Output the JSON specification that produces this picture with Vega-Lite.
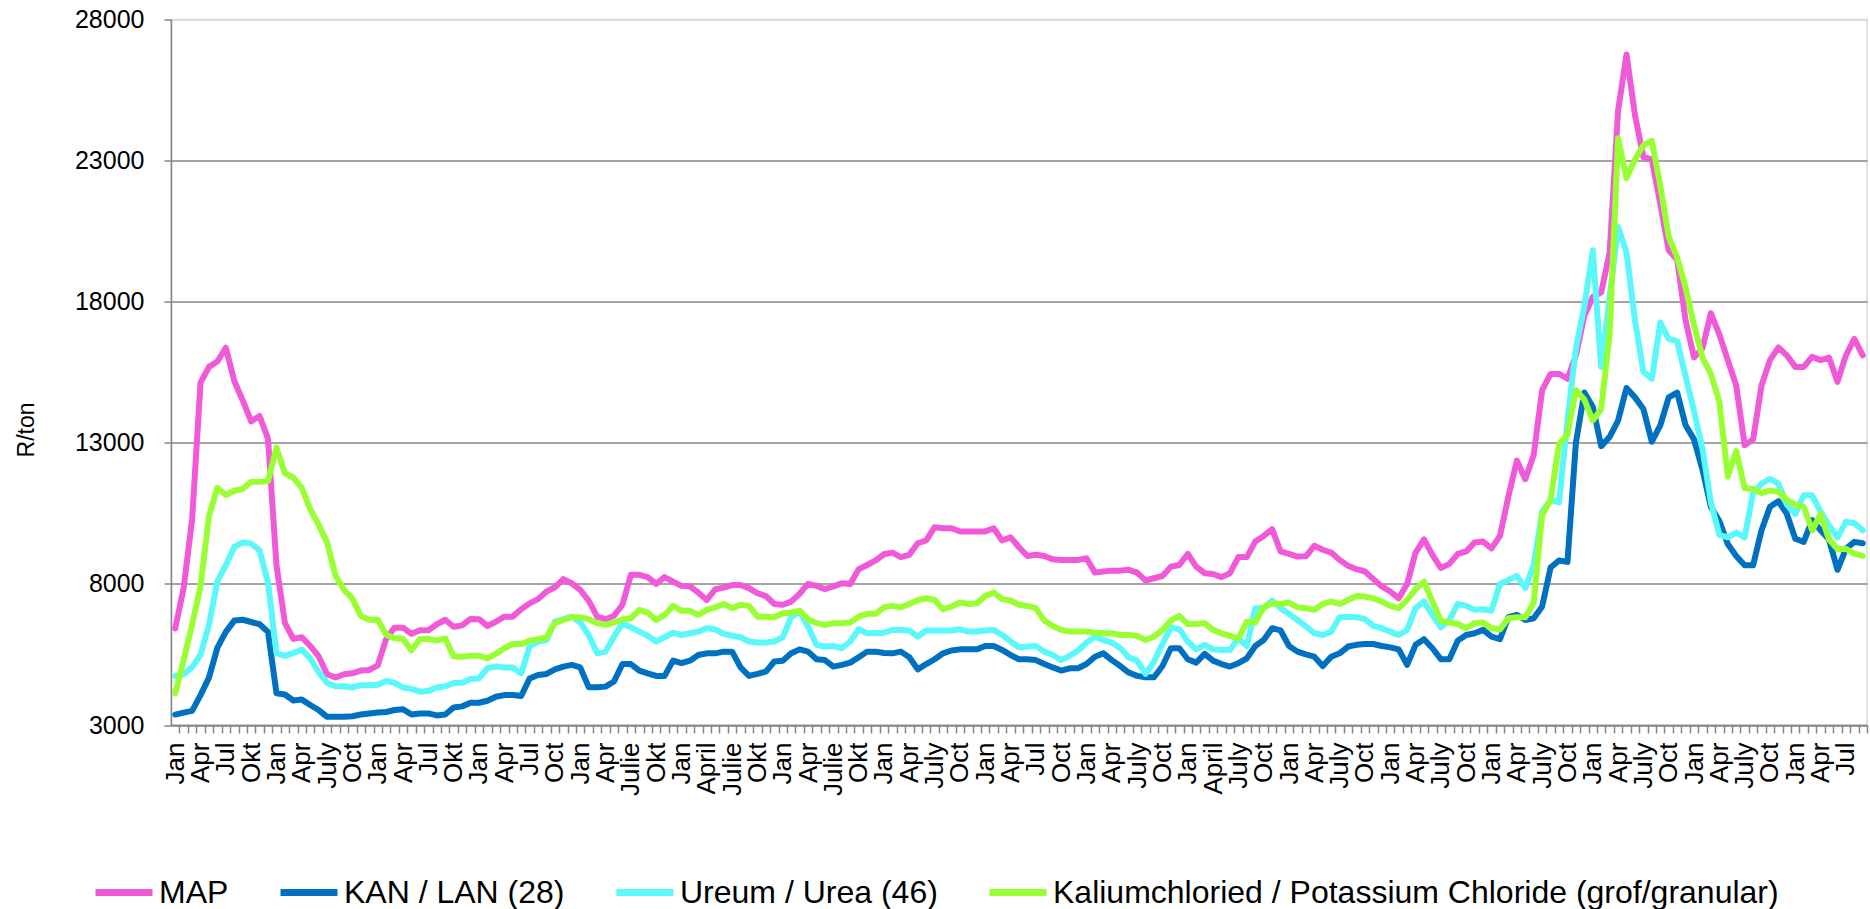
{
"$schema": "https://vega.github.io/schema/vega-lite/v6.json",
"width": 1696, "height": 705.5,
"autosize": {"type": "none"},
"padding": {"left": 171, "top": 19.5, "right": 3, "bottom": 184},
"background": "white",
"config": {"font": "Liberation Sans", "view": {"stroke": "#d9d9d9", "strokeWidth": 1.5}},
"data": {"values": [
{"i":0,"MAP":6420,"KAN":3370,"UREA":4740,"KCL":4120},
{"i":1,"MAP":7850,"KAN":3440,"UREA":4800,"KCL":5300},
{"i":2,"MAP":10280,"KAN":3500,"UREA":5050,"KCL":6550},
{"i":3,"MAP":15130,"KAN":4060,"UREA":5490,"KCL":7910},
{"i":4,"MAP":15690,"KAN":4680,"UREA":6550,"KCL":10400},
{"i":5,"MAP":15880,"KAN":5740,"UREA":8100,"KCL":11400},
{"i":6,"MAP":16370,"KAN":6300,"UREA":8660,"KCL":11150},
{"i":7,"MAP":15190,"KAN":6700,"UREA":9310,"KCL":11300},
{"i":8,"MAP":14500,"KAN":6730,"UREA":9470,"KCL":11370},
{"i":9,"MAP":13760,"KAN":6650,"UREA":9430,"KCL":11620},
{"i":10,"MAP":13950,"KAN":6570,"UREA":9180,"KCL":11620},
{"i":11,"MAP":13140,"KAN":6300,"UREA":8040,"KCL":11650},
{"i":12,"MAP":8660,"KAN":4120,"UREA":5550,"KCL":12830},
{"i":13,"MAP":6610,"KAN":4080,"UREA":5450,"KCL":11920},
{"i":14,"MAP":6050,"KAN":3870,"UREA":5550,"KCL":11770},
{"i":15,"MAP":6110,"KAN":3900,"UREA":5670,"KCL":11400},
{"i":16,"MAP":5800,"KAN":3710,"UREA":5360,"KCL":10650},
{"i":17,"MAP":5430,"KAN":3530,"UREA":4870,"KCL":10090},
{"i":18,"MAP":4800,"KAN":3290,"UREA":4490,"KCL":9470},
{"i":19,"MAP":4680,"KAN":3290,"UREA":4370,"KCL":8290},
{"i":20,"MAP":4800,"KAN":3290,"UREA":4370,"KCL":7790},
{"i":21,"MAP":4830,"KAN":3310,"UREA":4330,"KCL":7480},
{"i":22,"MAP":4930,"KAN":3370,"UREA":4410,"KCL":6860},
{"i":23,"MAP":4950,"KAN":3410,"UREA":4410,"KCL":6730},
{"i":24,"MAP":5110,"KAN":3440,"UREA":4430,"KCL":6730},
{"i":25,"MAP":6050,"KAN":3460,"UREA":4560,"KCL":6200},
{"i":26,"MAP":6450,"KAN":3530,"UREA":4490,"KCL":6070},
{"i":27,"MAP":6450,"KAN":3560,"UREA":4330,"KCL":6050},
{"i":28,"MAP":6230,"KAN":3370,"UREA":4280,"KCL":5650},
{"i":29,"MAP":6360,"KAN":3410,"UREA":4180,"KCL":6050},
{"i":30,"MAP":6360,"KAN":3410,"UREA":4210,"KCL":6050},
{"i":31,"MAP":6570,"KAN":3340,"UREA":4330,"KCL":5990},
{"i":32,"MAP":6730,"KAN":3370,"UREA":4370,"KCL":6070},
{"i":33,"MAP":6480,"KAN":3620,"UREA":4490,"KCL":5430},
{"i":34,"MAP":6530,"KAN":3660,"UREA":4500,"KCL":5420},
{"i":35,"MAP":6760,"KAN":3790,"UREA":4630,"KCL":5450},
{"i":36,"MAP":6750,"KAN":3790,"UREA":4650,"KCL":5450},
{"i":37,"MAP":6510,"KAN":3860,"UREA":5010,"KCL":5360},
{"i":38,"MAP":6660,"KAN":4000,"UREA":5070,"KCL":5520},
{"i":39,"MAP":6840,"KAN":4060,"UREA":5040,"KCL":5720},
{"i":40,"MAP":6840,"KAN":4060,"UREA":5040,"KCL":5870},
{"i":41,"MAP":7100,"KAN":4030,"UREA":4830,"KCL":5870},
{"i":42,"MAP":7310,"KAN":4650,"UREA":5780,"KCL":5990},
{"i":43,"MAP":7460,"KAN":4770,"UREA":5960,"KCL":6040},
{"i":44,"MAP":7730,"KAN":4810,"UREA":6010,"KCL":6110},
{"i":45,"MAP":7880,"KAN":4970,"UREA":6660,"KCL":6610},
{"i":46,"MAP":8170,"KAN":5070,"UREA":6750,"KCL":6720},
{"i":47,"MAP":8020,"KAN":5130,"UREA":6840,"KCL":6820},
{"i":48,"MAP":7790,"KAN":5040,"UREA":6630,"KCL":6820},
{"i":49,"MAP":7410,"KAN":4340,"UREA":6190,"KCL":6750},
{"i":50,"MAP":6840,"KAN":4340,"UREA":5540,"KCL":6610},
{"i":51,"MAP":6750,"KAN":4360,"UREA":5600,"KCL":6550},
{"i":52,"MAP":6870,"KAN":4540,"UREA":6130,"KCL":6630},
{"i":53,"MAP":7260,"KAN":5160,"UREA":6610,"KCL":6750},
{"i":54,"MAP":8320,"KAN":5160,"UREA":6460,"KCL":6780},
{"i":55,"MAP":8320,"KAN":4930,"UREA":6310,"KCL":7080},
{"i":56,"MAP":8240,"KAN":4830,"UREA":6160,"KCL":6980},
{"i":57,"MAP":8000,"KAN":4740,"UREA":5960,"KCL":6720},
{"i":58,"MAP":8240,"KAN":4740,"UREA":6110,"KCL":6900},
{"i":59,"MAP":8080,"KAN":5280,"UREA":6270,"KCL":7220},
{"i":60,"MAP":7930,"KAN":5190,"UREA":6190,"KCL":7050},
{"i":61,"MAP":7910,"KAN":5280,"UREA":6250,"KCL":7050},
{"i":62,"MAP":7690,"KAN":5480,"UREA":6310,"KCL":6900},
{"i":63,"MAP":7430,"KAN":5540,"UREA":6430,"KCL":7080},
{"i":64,"MAP":7810,"KAN":5540,"UREA":6390,"KCL":7170},
{"i":65,"MAP":7870,"KAN":5600,"UREA":6230,"KCL":7290},
{"i":66,"MAP":7960,"KAN":5600,"UREA":6160,"KCL":7140},
{"i":67,"MAP":7960,"KAN":5040,"UREA":6110,"KCL":7260},
{"i":68,"MAP":7850,"KAN":4740,"UREA":5960,"KCL":7220},
{"i":69,"MAP":7670,"KAN":4810,"UREA":5920,"KCL":6840},
{"i":70,"MAP":7570,"KAN":4890,"UREA":5920,"KCL":6840},
{"i":71,"MAP":7290,"KAN":5250,"UREA":5960,"KCL":6820},
{"i":72,"MAP":7260,"KAN":5280,"UREA":6110,"KCL":6960},
{"i":73,"MAP":7370,"KAN":5540,"UREA":6820,"KCL":6980},
{"i":74,"MAP":7650,"KAN":5680,"UREA":7020,"KCL":7050},
{"i":75,"MAP":8000,"KAN":5600,"UREA":6490,"KCL":6750},
{"i":76,"MAP":7930,"KAN":5330,"UREA":5840,"KCL":6610},
{"i":77,"MAP":7810,"KAN":5300,"UREA":5780,"KCL":6550},
{"i":78,"MAP":7910,"KAN":5070,"UREA":5800,"KCL":6610},
{"i":79,"MAP":8020,"KAN":5130,"UREA":5720,"KCL":6610},
{"i":80,"MAP":8000,"KAN":5210,"UREA":5960,"KCL":6630},
{"i":81,"MAP":8520,"KAN":5400,"UREA":6390,"KCL":6840},
{"i":82,"MAP":8670,"KAN":5600,"UREA":6250,"KCL":6940},
{"i":83,"MAP":8830,"KAN":5600,"UREA":6250,"KCL":6940},
{"i":84,"MAP":9050,"KAN":5550,"UREA":6270,"KCL":7170},
{"i":85,"MAP":9110,"KAN":5540,"UREA":6370,"KCL":7220},
{"i":86,"MAP":8950,"KAN":5600,"UREA":6370,"KCL":7170},
{"i":87,"MAP":9030,"KAN":5400,"UREA":6350,"KCL":7290},
{"i":88,"MAP":9440,"KAN":4970,"UREA":6130,"KCL":7430},
{"i":89,"MAP":9540,"KAN":5160,"UREA":6350,"KCL":7490},
{"i":90,"MAP":10010,"KAN":5330,"UREA":6350,"KCL":7430},
{"i":91,"MAP":9970,"KAN":5540,"UREA":6350,"KCL":7100},
{"i":92,"MAP":9970,"KAN":5640,"UREA":6350,"KCL":7200},
{"i":93,"MAP":9860,"KAN":5680,"UREA":6390,"KCL":7340},
{"i":94,"MAP":9860,"KAN":5680,"UREA":6310,"KCL":7290},
{"i":95,"MAP":9860,"KAN":5680,"UREA":6310,"KCL":7310},
{"i":96,"MAP":9860,"KAN":5800,"UREA":6350,"KCL":7570},
{"i":97,"MAP":9970,"KAN":5800,"UREA":6370,"KCL":7690},
{"i":98,"MAP":9540,"KAN":5660,"UREA":6190,"KCL":7460},
{"i":99,"MAP":9650,"KAN":5480,"UREA":5960,"KCL":7410},
{"i":100,"MAP":9300,"KAN":5330,"UREA":5750,"KCL":7260},
{"i":101,"MAP":8990,"KAN":5330,"UREA":5780,"KCL":7220},
{"i":102,"MAP":9030,"KAN":5300,"UREA":5800,"KCL":7140},
{"i":103,"MAP":8990,"KAN":5160,"UREA":5600,"KCL":6700},
{"i":104,"MAP":8870,"KAN":5040,"UREA":5480,"KCL":6510},
{"i":105,"MAP":8850,"KAN":4930,"UREA":5300,"KCL":6370},
{"i":106,"MAP":8850,"KAN":5010,"UREA":5450,"KCL":6310},
{"i":107,"MAP":8850,"KAN":5010,"UREA":5640,"KCL":6310},
{"i":108,"MAP":8910,"KAN":5160,"UREA":5920,"KCL":6310},
{"i":109,"MAP":8400,"KAN":5420,"UREA":6130,"KCL":6270},
{"i":110,"MAP":8440,"KAN":5540,"UREA":6010,"KCL":6250},
{"i":111,"MAP":8470,"KAN":5300,"UREA":5920,"KCL":6250},
{"i":112,"MAP":8470,"KAN":5090,"UREA":5720,"KCL":6190},
{"i":113,"MAP":8500,"KAN":4860,"UREA":5400,"KCL":6190},
{"i":114,"MAP":8400,"KAN":4740,"UREA":5280,"KCL":6160},
{"i":115,"MAP":8120,"KAN":4690,"UREA":4810,"KCL":6010},
{"i":116,"MAP":8200,"KAN":4690,"UREA":5250,"KCL":6130},
{"i":117,"MAP":8280,"KAN":5090,"UREA":5870,"KCL":6370},
{"i":118,"MAP":8610,"KAN":5720,"UREA":6460,"KCL":6700},
{"i":119,"MAP":8670,"KAN":5720,"UREA":6390,"KCL":6870},
{"i":120,"MAP":9060,"KAN":5330,"UREA":5960,"KCL":6580},
{"i":121,"MAP":8610,"KAN":5210,"UREA":5680,"KCL":6580},
{"i":122,"MAP":8380,"KAN":5520,"UREA":5840,"KCL":6610},
{"i":123,"MAP":8350,"KAN":5280,"UREA":5680,"KCL":6370},
{"i":124,"MAP":8240,"KAN":5160,"UREA":5660,"KCL":6250},
{"i":125,"MAP":8380,"KAN":5070,"UREA":5660,"KCL":6160},
{"i":126,"MAP":8950,"KAN":5190,"UREA":6070,"KCL":6070},
{"i":127,"MAP":8950,"KAN":5360,"UREA":5800,"KCL":6660},
{"i":128,"MAP":9500,"KAN":5800,"UREA":7140,"KCL":6630},
{"i":129,"MAP":9700,"KAN":6010,"UREA":7140,"KCL":7170},
{"i":130,"MAP":9940,"KAN":6430,"UREA":7410,"KCL":7310},
{"i":131,"MAP":9150,"KAN":6350,"UREA":7140,"KCL":7290},
{"i":132,"MAP":9060,"KAN":5800,"UREA":6940,"KCL":7340},
{"i":133,"MAP":8970,"KAN":5600,"UREA":6720,"KCL":7170},
{"i":134,"MAP":8980,"KAN":5500,"UREA":6500,"KCL":7140},
{"i":135,"MAP":9350,"KAN":5420,"UREA":6250,"KCL":7080},
{"i":136,"MAP":9210,"KAN":5090,"UREA":6190,"KCL":7290},
{"i":137,"MAP":9110,"KAN":5420,"UREA":6310,"KCL":7370},
{"i":138,"MAP":8850,"KAN":5540,"UREA":6820,"KCL":7290},
{"i":139,"MAP":8640,"KAN":5780,"UREA":6840,"KCL":7430},
{"i":140,"MAP":8520,"KAN":5840,"UREA":6820,"KCL":7570},
{"i":141,"MAP":8440,"KAN":5870,"UREA":6750,"KCL":7550},
{"i":142,"MAP":8170,"KAN":5870,"UREA":6510,"KCL":7490},
{"i":143,"MAP":7910,"KAN":5800,"UREA":6430,"KCL":7370},
{"i":144,"MAP":7730,"KAN":5750,"UREA":6310,"KCL":7220},
{"i":145,"MAP":7490,"KAN":5680,"UREA":6190,"KCL":7140},
{"i":146,"MAP":8000,"KAN":5130,"UREA":6370,"KCL":7430},
{"i":147,"MAP":9110,"KAN":5840,"UREA":7140,"KCL":7810},
{"i":148,"MAP":9580,"KAN":6040,"UREA":7370,"KCL":8080},
{"i":149,"MAP":9030,"KAN":5720,"UREA":6900,"KCL":7370},
{"i":150,"MAP":8560,"KAN":5330,"UREA":6460,"KCL":6700},
{"i":151,"MAP":8710,"KAN":5330,"UREA":6720,"KCL":6630},
{"i":152,"MAP":9060,"KAN":5990,"UREA":7290,"KCL":6580},
{"i":153,"MAP":9150,"KAN":6190,"UREA":7220,"KCL":6430},
{"i":154,"MAP":9470,"KAN":6250,"UREA":7080,"KCL":6610},
{"i":155,"MAP":9500,"KAN":6370,"UREA":7100,"KCL":6630},
{"i":156,"MAP":9260,"KAN":6130,"UREA":7050,"KCL":6430},
{"i":157,"MAP":9700,"KAN":6040,"UREA":8000,"KCL":6390},
{"i":158,"MAP":11100,"KAN":6820,"UREA":8140,"KCL":6780},
{"i":159,"MAP":12370,"KAN":6900,"UREA":8280,"KCL":6820},
{"i":160,"MAP":11710,"KAN":6720,"UREA":7850,"KCL":6820},
{"i":161,"MAP":12570,"KAN":6780,"UREA":8670,"KCL":7340},
{"i":162,"MAP":14870,"KAN":7200,"UREA":10560,"KCL":10450},
{"i":163,"MAP":15440,"KAN":8580,"UREA":10980,"KCL":10980},
{"i":164,"MAP":15440,"KAN":8830,"UREA":10890,"KCL":12960},
{"i":165,"MAP":15270,"KAN":8780,"UREA":13800,"KCL":13290},
{"i":166,"MAP":16100,"KAN":13000,"UREA":16350,"KCL":14860},
{"i":167,"MAP":17500,"KAN":14780,"UREA":17840,"KCL":14530},
{"i":168,"MAP":18170,"KAN":14280,"UREA":19820,"KCL":13790},
{"i":169,"MAP":18330,"KAN":12880,"UREA":15690,"KCL":14200},
{"i":170,"MAP":19740,"KAN":13210,"UREA":18170,"KCL":16840},
{"i":171,"MAP":24780,"KAN":13790,"UREA":20650,"KCL":23790},
{"i":172,"MAP":26760,"KAN":14940,"UREA":19740,"KCL":22380},
{"i":173,"MAP":24610,"KAN":14610,"UREA":17340,"KCL":23040},
{"i":174,"MAP":23120,"KAN":14200,"UREA":15520,"KCL":23540},
{"i":175,"MAP":23040,"KAN":13040,"UREA":15270,"KCL":23700},
{"i":176,"MAP":21470,"KAN":13620,"UREA":17260,"KCL":22130},
{"i":177,"MAP":19820,"KAN":14610,"UREA":16680,"KCL":20310},
{"i":178,"MAP":19490,"KAN":14780,"UREA":16600,"KCL":19570},
{"i":179,"MAP":17340,"KAN":13620,"UREA":15360,"KCL":18500},
{"i":180,"MAP":16020,"KAN":13120,"UREA":14120,"KCL":17170},
{"i":181,"MAP":16350,"KAN":12050,"UREA":12800,"KCL":16020},
{"i":182,"MAP":17590,"KAN":10730,"UREA":10890,"KCL":15440},
{"i":183,"MAP":16840,"KAN":10230,"UREA":9740,"KCL":14450},
{"i":184,"MAP":15930,"KAN":9410,"UREA":9650,"KCL":11800},
{"i":185,"MAP":15030,"KAN":8990,"UREA":9820,"KCL":12710},
{"i":186,"MAP":12910,"KAN":8660,"UREA":9650,"KCL":11390},
{"i":187,"MAP":13120,"KAN":8660,"UREA":11220,"KCL":11360},
{"i":188,"MAP":15030,"KAN":9900,"UREA":11550,"KCL":11220},
{"i":189,"MAP":15930,"KAN":10730,"UREA":11720,"KCL":11310},
{"i":190,"MAP":16380,"KAN":10930,"UREA":11550,"KCL":11260},
{"i":191,"MAP":16100,"KAN":10480,"UREA":10810,"KCL":10980},
{"i":192,"MAP":15690,"KAN":9600,"UREA":10480,"KCL":10810},
{"i":193,"MAP":15690,"KAN":9490,"UREA":11140,"KCL":10730},
{"i":194,"MAP":16050,"KAN":10260,"UREA":11140,"KCL":9900},
{"i":195,"MAP":15930,"KAN":9900,"UREA":10560,"KCL":10480},
{"i":196,"MAP":16020,"KAN":9570,"UREA":10070,"KCL":9570},
{"i":197,"MAP":15160,"KAN":8500,"UREA":9650,"KCL":9240},
{"i":198,"MAP":16100,"KAN":9240,"UREA":10200,"KCL":9240},
{"i":199,"MAP":16680,"KAN":9490,"UREA":10150,"KCL":9070},
{"i":200,"MAP":16100,"KAN":9440,"UREA":9900,"KCL":8990}
]},
"transform": [{"fold": ["MAP", "KAN", "UREA", "KCL"], "as": ["series", "value"]}],
"mark": {"type": "line", "strokeWidth": 6, "strokeCap": "round", "strokeJoin": "round"},
"encoding": {
  "x": {"field": "i", "type": "quantitative",
    "scale": {"domain": [-0.5, 200.5], "nice": false, "zero": false},
    "axis": {"title": null, "grid": false,
      "values": [0,1,2,3,4,5,6,7,8,9,10,11,12,13,14,15,16,17,18,19,20,21,22,23,24,25,26,27,28,29,30,31,32,33,34,35,36,37,38,39,40,41,42,43,44,45,46,47,48,49,50,51,52,53,54,55,56,57,58,59,60,61,62,63,64,65,66,67,68,69,70,71,72,73,74,75,76,77,78,79,80,81,82,83,84,85,86,87,88,89,90,91,92,93,94,95,96,97,98,99,100,101,102,103,104,105,106,107,108,109,110,111,112,113,114,115,116,117,118,119,120,121,122,123,124,125,126,127,128,129,130,131,132,133,134,135,136,137,138,139,140,141,142,143,144,145,146,147,148,149,150,151,152,153,154,155,156,157,158,159,160,161,162,163,164,165,166,167,168,169,170,171,172,173,174,175,176,177,178,179,180,181,182,183,184,185,186,187,188,189,190,191,192,193,194,195,196,197,198,199,200],
      "labelExpr": "datum.value % 3 == 0 ? ['Jan','Apr','Jul','Okt','Jan','Apr','July','Oct','Jan','Apr','Jul','Okt','Jan','Apr','Jul','Oct','Jan','Apr','Julie','Okt','Jan','April','Julie','Okt','Jan','Apr','Julie','Okt','Jan','Apr','July','Oct','Jan','Apr','Jul','Oct','Jan','Apr','July','Oct','Jan','April','July','Oct','Jan','Apr','July','Oct','Jan','Apr','July','Oct','Jan','Apr','July','Oct','Jan','Apr','July','Oct','Jan','Apr','July','Oct','Jan','Apr','Jul'][datum.value / 3] : ''",
      "labelAngle": -90, "labelFontSize": 26, "labelColor": "#000000", "labelPadding": 9,
      "labelOverlap": false, "labelBound": false, "labelFlush": false,
      "tickSize": 8, "tickColor": "#868686", "tickWidth": 1.5,
      "tickOffset": 4.22, "labelOffset": -4.22,
      "domainColor": "#868686", "domainWidth": 1.5}},
  "y": {"field": "value", "type": "quantitative",
    "scale": {"domain": [3000, 28000], "nice": false, "zero": false},
    "axis": {"title": "R/ton", "values": [3000, 8000, 13000, 18000, 23000, 28000], "format": "d",
      "labelFontSize": 25, "labelColor": "#000000", "labelPadding": 20,
      "tickSize": 7, "tickColor": "#868686", "tickWidth": 1.5,
      "domainColor": "#868686", "domainWidth": 1.5,
      "grid": true, "gridWidth": 1.5,
      "gridColor": {"condition": {"test": "datum.value == 28000", "value": "#d9d9d9"}, "value": "#868686"},
      "titleFontSize": 23, "titleFontWeight": "normal", "titleColor": "#000000",
      "titleX": -145, "titleY": 410, "titleAlign": "center", "titleBaseline": "middle", "titleAngle": -90}},
  "color": {"field": "series", "type": "nominal",
    "scale": {"domain": ["MAP", "KAN", "UREA", "KCL"], "range": ["#F05AD8", "#0070C0", "#5AF8FA", "#99FF33"]},
    "legend": {"orient": "none", "legendX": -79, "legendY": 841, "direction": "horizontal", "title": null,
      "symbolType": "stroke", "symbolStrokeWidth": 7, "symbolSize": 3249, "symbolOpacity": 1,
      "labelFontSize": 32, "labelColor": "#000000", "labelOffset": 3, "labelLimit": 1000,
      "columnPadding": 37, "padding": 0,
      "labelExpr": "datum.label == 'KAN' ? 'KAN / LAN (28)' : datum.label == 'UREA' ? 'Ureum / Urea (46)' : datum.label == 'KCL' ? 'Kaliumchloried / Potassium Chloride (grof/granular)' : datum.label"}}
}
}
